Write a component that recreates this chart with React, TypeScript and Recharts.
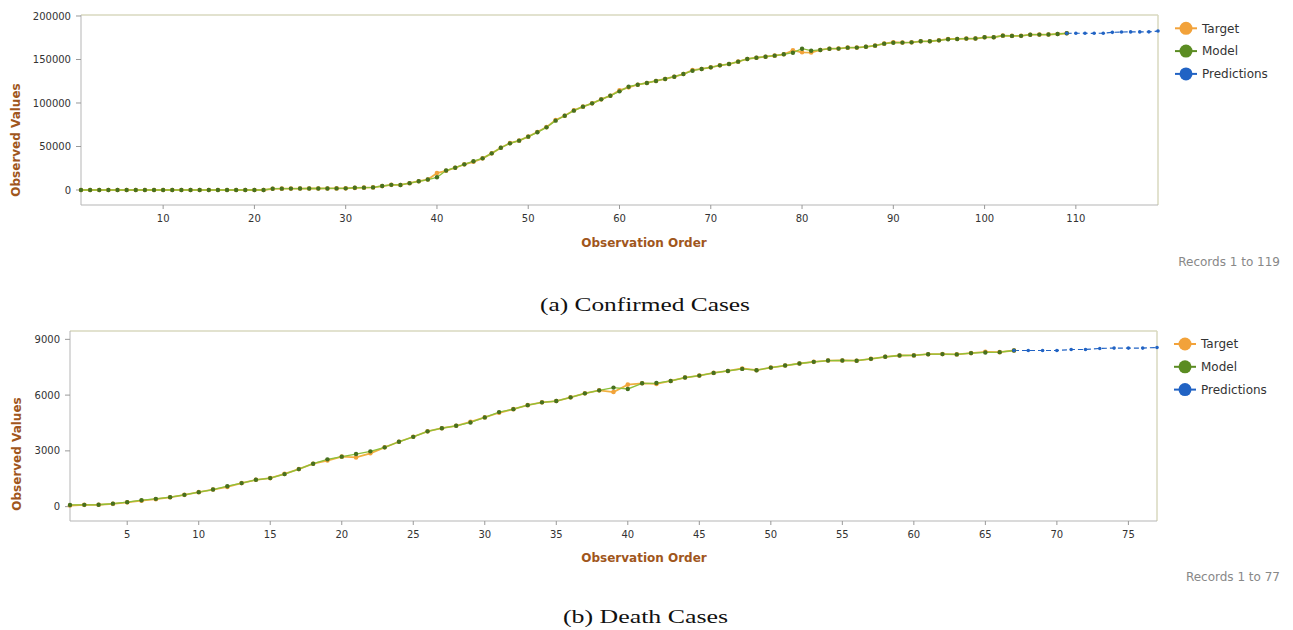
import React from 'react';
import { LineChart, Line, XAxis, YAxis, ReferenceLine } from 'recharts';

// ---------- Confirmed cases ----------
const confirmedModel: number[] = [
  0, 0, 0, 0, 0, 0, 0, 0, 0, 0, 0, 0, 0, 0, 0, 0, 0, 0, 0, 0, 0,
  1500, 1550, 1600, 1650, 1700, 1750, 1800, 1850, 1900,
  2600, 2700, 3000, 4600, 5900, 5800, 7900, 10000, 12000, 14600,
  22400, 25600, 29500, 33100, 36400, 42100, 48600, 53600, 56700, 61300,
  66300, 72000, 79700, 85400, 91200, 95800, 99600, 104200, 108400, 113400,
  118700, 121000, 123000, 125300, 127600, 130200, 133300, 137100, 139100, 141000,
  143300, 144800, 147500, 150600, 152000, 153200, 154400, 156000, 157800, 162400,
  160100, 161000, 162400, 162500, 163600, 163700, 164600, 165900, 168200, 169300,
  169400, 169700, 170900, 171000, 172000, 173200, 173600, 174000, 174100, 175500,
  175600, 177400, 177100, 177200, 178500, 178600, 178700, 179300, 180100,
];
const confirmedTarget: number[] = [
  0, 0, 0, 0, 0, 0, 0, 0, 0, 0, 0, 0, 0, 0, 0, 0, 0, 0, 0, 0, 0,
  1400, 1550, 1600, 1650, 1700, 1750, 1800, 1850, 1900,
  2400, 2700, 3000, 4500, 5900, 5800, 7800, 10100, 12000, 19500,
  22100, 25600, 29500, 32400, 36400, 42100, 48600, 53900, 56700, 61300,
  66600, 72300, 80500, 85400, 91600, 95800, 99600, 104200, 108400, 114500,
  118000, 121000, 123000, 125300, 127600, 130200, 133300, 137800, 139100, 141000,
  143300, 144800, 147500, 150600, 152000, 153200, 154400, 156000, 160500, 158300,
  158000, 161000, 162400, 162500, 163600, 163700, 164600, 165900, 168200, 169800,
  169400, 169700, 170900, 171000, 172000, 173600, 173600, 174000, 174100, 175500,
  175600, 177400, 177100, 177200, 178500, 178600, 178700, 179300, 180100,
];
const confirmedPred: number[] = [
  180100, 180200, 180200, 180100, 180200, 181200, 181600, 181700, 181700, 181800, 182700,
];
const confirmedYTicks = [0, 50000, 100000, 150000, 200000];
const confirmedXTicks = [10, 20, 30, 40, 50, 60, 70, 80, 90, 100, 110];

// ---------- Death cases ----------
const deathModel: number[] = [
  90, 95, 100, 160, 240, 345, 420, 510, 635, 780,
  920, 1100, 1265, 1445, 1535, 1750, 2020, 2310, 2545, 2690,
  2830, 2975, 3190, 3490, 3755, 4050, 4220, 4350, 4530, 4800,
  5085, 5245, 5460, 5610, 5680, 5880, 6095, 6255, 6405, 6330,
  6635, 6650, 6760, 6945, 7050, 7195, 7300, 7410, 7340, 7480,
  7590, 7700, 7790, 7860, 7865, 7850, 7950, 8060, 8130, 8135,
  8200, 8205, 8190, 8260, 8295, 8310, 8400,
];
const deathTarget: number[] = [
  60, 95, 100, 150, 230, 320, 400, 500, 635, 780,
  920, 1060, 1265, 1445, 1535, 1760, 2020, 2310, 2480, 2690,
  2650, 2870, 3190, 3490, 3760, 4050, 4220, 4350, 4560, 4800,
  5050, 5245, 5460, 5610, 5680, 5880, 6095, 6255, 6165, 6565,
  6635, 6600, 6760, 6945, 7050, 7195, 7300, 7430, 7340, 7480,
  7590, 7700, 7790, 7860, 7865, 7850, 7950, 8060, 8130, 8135,
  8200, 8205, 8190, 8260, 8330, 8310, 8400,
];
const deathPred: number[] = [8400, 8400, 8400, 8400, 8455, 8455, 8510, 8530, 8530, 8530, 8565];
const deathYTicks = [0, 3000, 6000, 9000];
const deathXTicks = [5, 10, 15, 20, 25, 30, 35, 40, 45, 50, 55, 60, 65, 70, 75];

const legendNames = ['Target', 'Model', 'Predictions'];

const ORANGE = '#f2a23a';
const TARGET_LINE = '#f0b040';
const GREEN_LINE = '#8cc03a';
const GREEN_DOT = '#46701f';
const GREEN_LEG = '#5b8c22';
const BLUE = '#2163c4';
const BROWN = '#a0561c';
const TICK = '#333333';
const BORDER = '#d9d9bf';

function buildRows(model: number[], target: number[], pred: number[], total: number) {
  const start = model.length - 1;
  const rows = [];
  for (let k = 0; k < total; k++) {
    rows.push({
      order: k + 1,
      target: k < target.length ? target[k] : null,
      model: k < model.length ? model[k] : null,
      pred: k >= start ? pred[k - start] : null,
    });
  }
  return rows;
}

const confirmedRows = buildRows(confirmedModel, confirmedTarget, confirmedPred, 119);
const deathRows = buildRows(deathModel, deathTarget, deathPred, 77);

const legendColors = [ORANGE, GREEN_LEG, BLUE];

type PanelProps = {
  rows: any[];
  top: number;
  yAxisWidth: number;
  rightMargin: number;
  xMax: number;
  xTicks: number[];
  yDomain: [number, number];
  yTicks: number[];
};

function Panel(p: PanelProps) {
  return (
    <div style={{ position: 'absolute', left: 0, top: p.top, width: 1293, height: 320 }}>
      <LineChart
        width={1293}
        height={320}
        data={p.rows}
        margin={{ top: 15, right: p.rightMargin, left: 0, bottom: 85 }}
      >
        <XAxis
          dataKey="order"
          type="number"
          domain={[1, p.xMax]}
          ticks={p.xTicks}
          height={30}
          tickSize={4}
          tickMargin={6}
          stroke="#b5b5b5"
          tick={{ fill: TICK, fontSize: 10, fontFamily: 'DejaVu Sans, sans-serif' }}
          tickLine={{ stroke: '#999' }}
        />
        <YAxis
          type="number"
          domain={p.yDomain}
          ticks={p.yTicks}
          width={p.yAxisWidth}
          tickSize={5}
          tickMargin={5}
          stroke="#b5b5b5"
          tick={{ fill: TICK, fontSize: 10, fontFamily: 'DejaVu Sans, sans-serif' }}
          tickLine={{ stroke: '#999' }}
        />
        <ReferenceLine y={p.yDomain[1]} stroke={BORDER} strokeWidth={1.5} />
        <ReferenceLine x={p.xMax} stroke={BORDER} strokeWidth={1.5} />
        <Line
          name="Target"
          dataKey="target"
          stroke={TARGET_LINE}
          strokeWidth={1.8}
          dot={{ r: 2.3, fill: ORANGE, stroke: 'none' }}
          isAnimationActive={false}
          connectNulls={false}
        />
        <Line
          name="Model"
          dataKey="model"
          stroke={GREEN_LINE}
          strokeWidth={1.3}
          dot={{ r: 2.2, fill: GREEN_DOT, stroke: 'none' }}
          isAnimationActive={false}
          connectNulls={false}
        />
        <Line
          name="Predictions"
          dataKey="pred"
          stroke={BLUE}
          strokeWidth={1.2}
          strokeDasharray="5 3"
          dot={{ r: 1.8, fill: BLUE, stroke: 'none' }}
          isAnimationActive={false}
          connectNulls={false}
        />
      </LineChart>
    </div>
  );
}

const font = 'DejaVu Sans, sans-serif';

function LegendBlock({ x, y }: { x: number; y: number }) {
  return (
    <g>
      {legendNames.map((n, i) => {
        const cy = y + i * 22.8;
        const c = legendColors[i];
        return (
          <g key={n}>
            <line x1={x - 11} x2={x + 11} y1={cy} y2={cy} stroke={c} strokeWidth={2} />
            <circle cx={x} cy={cy} r={6.5} fill={c} />
            <text x={x + 16} y={cy + 4.3} fontFamily={font} fontSize={12} fill={TICK}>{n}</text>
          </g>
        );
      })}
    </g>
  );
}

export default function App() {
  return (
    <div style={{ position: 'absolute', left: 0, top: 0, width: 1293, height: 630, background: '#fff', overflow: 'hidden' }}>
      <Panel
        rows={confirmedRows}
        top={0}
        yAxisWidth={81}
        rightMargin={135}
        xMax={119}
        xTicks={confirmedXTicks}
        yDomain={[-17241, 201149]}
        yTicks={confirmedYTicks}
      />
      <Panel
        rows={deathRows}
        top={316}
        yAxisWidth={70}
        rightMargin={136}
        xMax={77}
        xTicks={deathXTicks}
        yDomain={[-773, 9449]}
        yTicks={deathYTicks}
      />
      <svg width={1293} height={630} style={{ position: 'absolute', left: 0, top: 0, pointerEvents: 'none' }}>
        <LegendBlock x={1186} y={28.3} />
        <LegendBlock x={1185} y={344} />
        <text x={16} y={140} transform="rotate(-90 16 140)" textAnchor="middle" dominantBaseline="central"
          fontFamily={font} fontWeight="bold" fontSize={12} fill={BROWN}>Observed Values</text>
        <text x={17} y={454} transform="rotate(-90 17 454)" textAnchor="middle" dominantBaseline="central"
          fontFamily={font} fontWeight="bold" fontSize={12} fill={BROWN}>Observed Values</text>
        <text x={644} y={243} textAnchor="middle" dominantBaseline="central"
          fontFamily={font} fontWeight="bold" fontSize={12} fill={BROWN}>Observation Order</text>
        <text x={644} y={558} textAnchor="middle" dominantBaseline="central"
          fontFamily={font} fontWeight="bold" fontSize={12} fill={BROWN}>Observation Order</text>
        <text x={1280} y={262} textAnchor="end" dominantBaseline="central"
          fontFamily={font} fontSize={12} fill="#888">Records 1 to 119</text>
        <text x={1280} y={577} textAnchor="end" dominantBaseline="central"
          fontFamily={font} fontSize={12} fill="#888">Records 1 to 77</text>
        <text x={540} y={311} textLength={210} lengthAdjust="spacingAndGlyphs"
          fontFamily="Liberation Serif, serif" fontSize={19} fill="#111">(a) Confirmed Cases</text>
        <text x={563} y={623} textLength={165} lengthAdjust="spacingAndGlyphs"
          fontFamily="Liberation Serif, serif" fontSize={19} fill="#111">(b) Death Cases</text>
      </svg>
    </div>
  );
}
